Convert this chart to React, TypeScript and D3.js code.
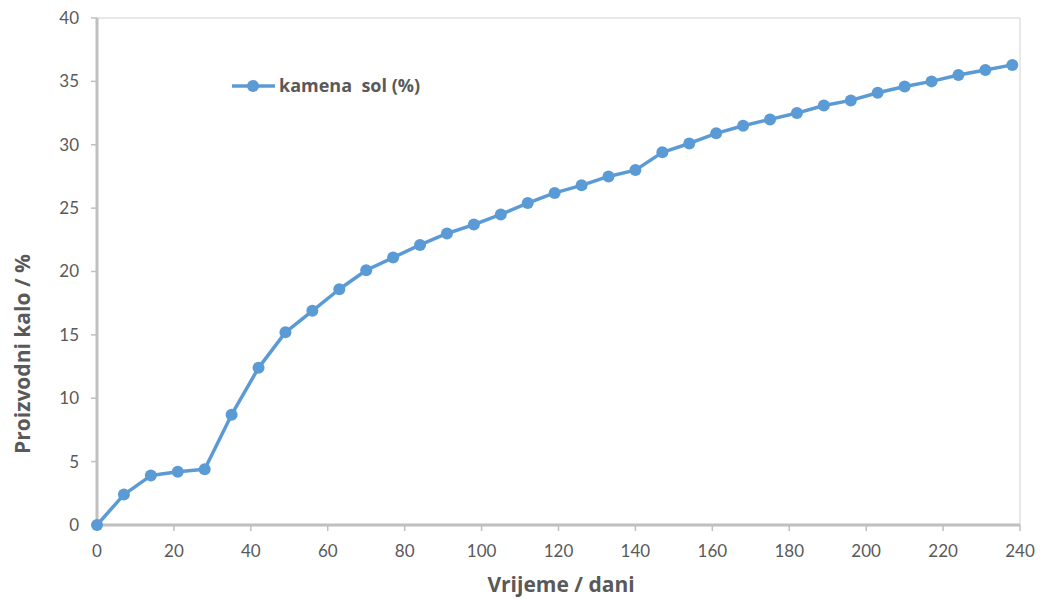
import React from "react";
import * as d3 from "d3";

const days = [0, 7, 14, 21, 28, 35, 42, 49, 56, 63, 70, 77, 84, 91, 98, 105, 112, 119, 126, 133, 140, 147, 154, 161, 168, 175, 182, 189, 196, 203, 210, 217, 224, 231, 238];
const shrinkage = [0, 2.4, 3.9, 4.2, 4.4, 8.7, 12.4, 15.2, 16.9, 18.6, 20.1, 21.1, 22.1, 23.0, 23.7, 24.5, 25.4, 26.2, 26.8, 27.5, 28.0, 29.4, 30.1, 30.9, 31.5, 32.0, 32.5, 33.1, 33.5, 34.1, 34.6, 35.0, 35.5, 35.9, 36.3];
const xTicks = [0, 20, 40, 60, 80, 100, 120, 140, 160, 180, 200, 220, 240];
const yTicks = [0, 5, 10, 15, 20, 25, 30, 35, 40];
const seriesName = "kamena\u00a0 sol (%)";
const xTitle = "Vrijeme / dani";
const yTitle = "Proizvodni kalo / %";

export default function App() {
  const W = 1041, H = 599;
  const left = 97, right = 1020, top = 18, bottom = 525;
  const x = d3.scaleLinear().domain([0, 240]).range([left, right]);
  const y = d3.scaleLinear().domain([0, 40]).range([bottom, top]);
  const line = d3.line<number>().x((_, i) => x(days[i])).y((d) => y(d));
  const color = "#5B9BD5";
  const txt = "#595959";
  const font = "Lato, 'Open Sans', sans-serif";
  const boldFont = "'Open Sans', sans-serif";
  return (
    <svg width={W} height={H} style={{ position: "absolute", left: 0, top: 0, background: "#fff" }} fontFamily={font}>
      <rect x={0} y={0} width={W} height={H} fill="#fff" />
      <line x1={left} x2={right} y1={top} y2={top} stroke="#d0d0d0" strokeWidth={1} />
      <line x1={right} x2={right} y1={top} y2={bottom} stroke="#d0d0d0" strokeWidth={1} />
      <line x1={left} x2={left} y1={top} y2={bottom + 1} stroke="#bfbfbf" strokeWidth={3} />
      <line x1={left - 1} x2={right} y1={bottom} y2={bottom} stroke="#bfbfbf" strokeWidth={3} />
      {yTicks.map((t) => (
        <g key={"y" + t}>
          <line x1={left - 6} x2={left} y1={y(t)} y2={y(t)} stroke="#bfbfbf" strokeWidth={1.5} />
          <text x={left - 18} y={y(t)} dy="0.35em" textAnchor="end" fontSize={17} fill={txt}>{t}</text>
        </g>
      ))}
      {xTicks.map((t) => (
        <g key={"x" + t}>
          <line x1={x(t)} x2={x(t)} y1={bottom} y2={bottom + 6} stroke="#bfbfbf" strokeWidth={1.5} />
          <text x={x(t)} y={bottom + 32} textAnchor="middle" fontSize={17} fill={txt}>{t}</text>
        </g>
      ))}
      <path d={line(shrinkage) || ""} fill="none" stroke={color} strokeWidth={3.5} strokeLinejoin="round" />
      {shrinkage.map((v, i) => (
        <circle key={i} cx={x(days[i])} cy={y(v)} r={6} fill={color} />
      ))}
      <line x1={232} x2={275} y1={86} y2={86} stroke={color} strokeWidth={3.5} />
      <circle cx={253} cy={86} r={6} fill={color} />
      <text x={279} y={86} dy="0.35em" fontSize={18} fontWeight="bold" fill={txt} fontFamily={boldFont}>{seriesName}</text>
      <text x={561} y={592} textAnchor="middle" fontSize={21} fontWeight="bold" fill={txt} fontFamily={boldFont}>{xTitle}</text>
      <text transform={`translate(30, 354) rotate(-90)`} textAnchor="middle" fontSize={21} fontWeight="bold" fill={txt} fontFamily={boldFont}>{yTitle}</text>
    </svg>
  );
}
